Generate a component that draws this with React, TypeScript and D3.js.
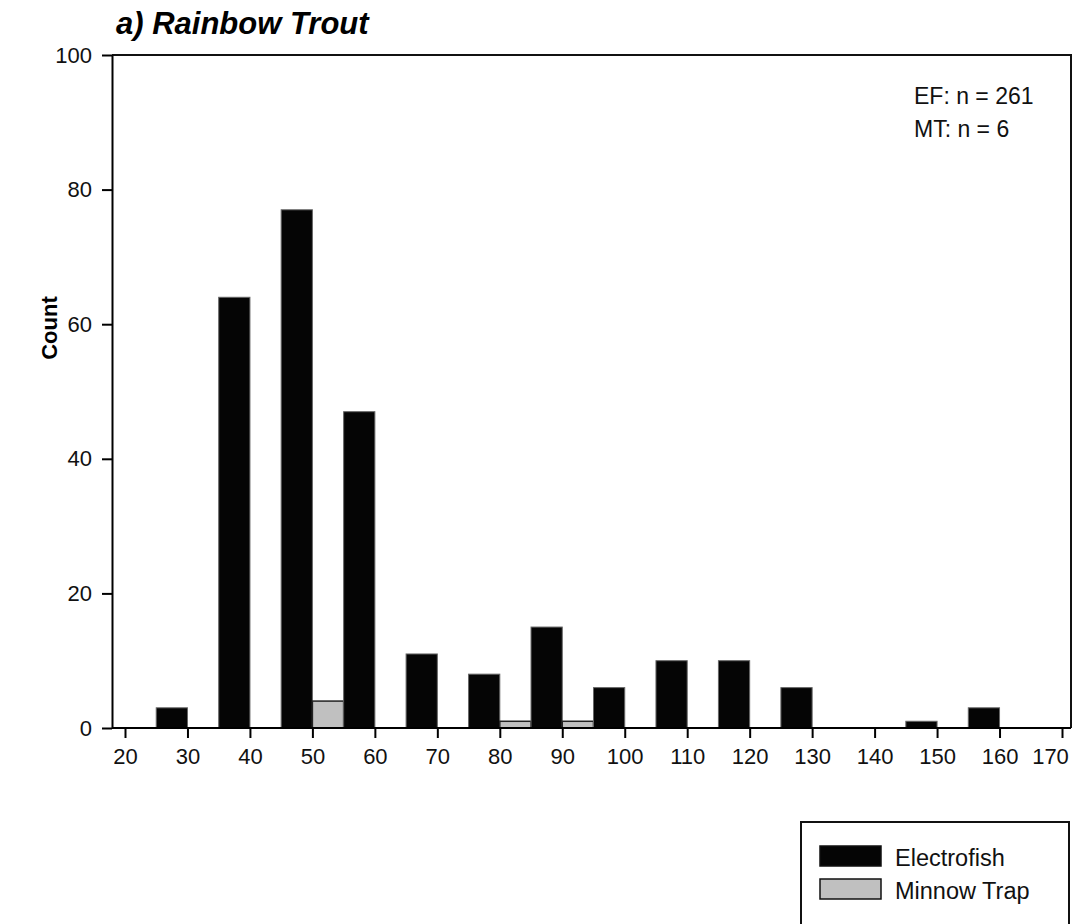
import { useEffect, useRef } from 'react';
import { select, scaleLinear, axisBottom, axisLeft, range } from 'd3';

const binCenters = [30, 40, 50, 60, 70, 80, 90, 100, 110, 120, 130, 140, 150, 160];
const electrofish = [3, 64, 77, 47, 11, 8, 15, 6, 10, 10, 6, 0, 1, 3];
const minnowTrap = [0, 0, 4, 0, 0, 1, 1, 0, 0, 0, 0, 0, 0, 0];
const xTicks = range(20, 171, 10);
const yTicks = [0, 20, 40, 60, 80, 100];
const notes = ['EF: n = 261', 'MT: n = 6'];
const legendItems = [
  { label: 'Electrofish', fill: '#050505' },
  { label: 'Minnow Trap', fill: '#c0c0c0' },
];

export default function App() {
  const svgRef = useRef<SVGSVGElement>(null);

  useEffect(() => {
    if (!svgRef.current) return;
    const svg = select(svgRef.current);
    svg.selectAll('*').remove();

    const font = 'Liberation Sans, Arial, sans-serif';
    const left = 112;
    const right = 1071;
    const top = 55;
    const bottom = 728;

    const x = scaleLinear().domain([20, 170]).range([125, 1062]);
    const y = scaleLinear().domain([0, 100]).range([bottom, top]);

    // bars: electrofish left half, minnow trap right half of each bin
    const bars = svg.append('g');
    binCenters.forEach((c, i) => {
      if (electrofish[i] > 0) {
        bars.append('rect')
          .attr('x', x(c - 5))
          .attr('y', y(electrofish[i]))
          .attr('width', x(c) - x(c - 5))
          .attr('height', y(0) - y(electrofish[i]))
          .attr('fill', '#050505')
          .attr('stroke', '#666')
          .attr('stroke-width', 1);
      }
      if (minnowTrap[i] > 0) {
        bars.append('rect')
          .attr('x', x(c))
          .attr('y', y(minnowTrap[i]))
          .attr('width', x(c + 5) - x(c))
          .attr('height', y(0) - y(minnowTrap[i]))
          .attr('fill', '#c0c0c0')
          .attr('stroke', '#222')
          .attr('stroke-width', 1.5);
      }
    });

    // frame
    svg.append('path')
      .attr('d', `M${left},${top}H${right}V${bottom}`)
      .attr('fill', 'none')
      .attr('stroke', '#111')
      .attr('stroke-width', 2);

    const xAxis = svg.append('g')
      .attr('transform', `translate(0,${bottom})`)
      .call(axisBottom(x).tickValues(xTicks).tickSize(10).tickSizeOuter(0).tickPadding(10));
    xAxis.select('.domain').attr('d', `M${left},0H${right}`).attr('stroke-width', 2);
    xAxis.selectAll('.tick line').attr('stroke-width', 2);
    xAxis.selectAll('text').attr('font-family', font).attr('font-size', 22).attr('fill', '#111');
    // last label pulled in so it stays on the page
    xAxis.selectAll<SVGTextElement, number>('text')
      .filter((d) => d === 170)
      .attr('dx', -12);

    const yAxis = svg.append('g')
      .attr('transform', `translate(${left},0)`)
      .call(axisLeft(y).tickValues(yTicks).tickSize(10).tickSizeOuter(0).tickPadding(10));
    yAxis.select('.domain').attr('stroke-width', 2);
    yAxis.selectAll('.tick line').attr('stroke-width', 2);
    yAxis.selectAll('text').attr('font-family', font).attr('font-size', 22).attr('fill', '#111');

    svg.append('text')
      .attr('x', 116)
      .attr('y', 34)
      .attr('font-family', font)
      .attr('font-size', 31)
      .attr('font-weight', 'bold')
      .attr('font-style', 'italic')
      .text('a) Rainbow Trout');

    svg.append('text')
      .attr('transform', 'translate(57,328) rotate(-90)')
      .attr('text-anchor', 'middle')
      .attr('font-family', font)
      .attr('font-size', 22)
      .attr('font-weight', 'bold')
      .text('Count');

    notes.forEach((n, i) => {
      svg.append('text')
        .attr('x', 914)
        .attr('y', 104 + i * 33)
        .attr('font-family', font)
        .attr('font-size', 23)
        .attr('fill', '#111')
        .text(n);
    });

    // legend
    svg.append('path')
      .attr('d', 'M801,930V822H1069V930')
      .attr('fill', 'none')
      .attr('stroke', '#111')
      .attr('stroke-width', 2);
    legendItems.forEach((d, i) => {
      svg.append('rect')
        .attr('x', 820)
        .attr('y', 846 + i * 33)
        .attr('width', 61)
        .attr('height', 20)
        .attr('fill', d.fill)
        .attr('stroke', '#111')
        .attr('stroke-width', 1.5);
      svg.append('text')
        .attr('x', 895)
        .attr('y', 866 + i * 33)
        .attr('font-family', font)
        .attr('font-size', 23.5)
        .attr('fill', '#111')
        .text(d.label);
    });
  }, []);

  return (
    <svg ref={svgRef} width={1080} height={924}
      style={{ position: 'absolute', left: 0, top: 0, background: '#fff' }} />
  );
}
